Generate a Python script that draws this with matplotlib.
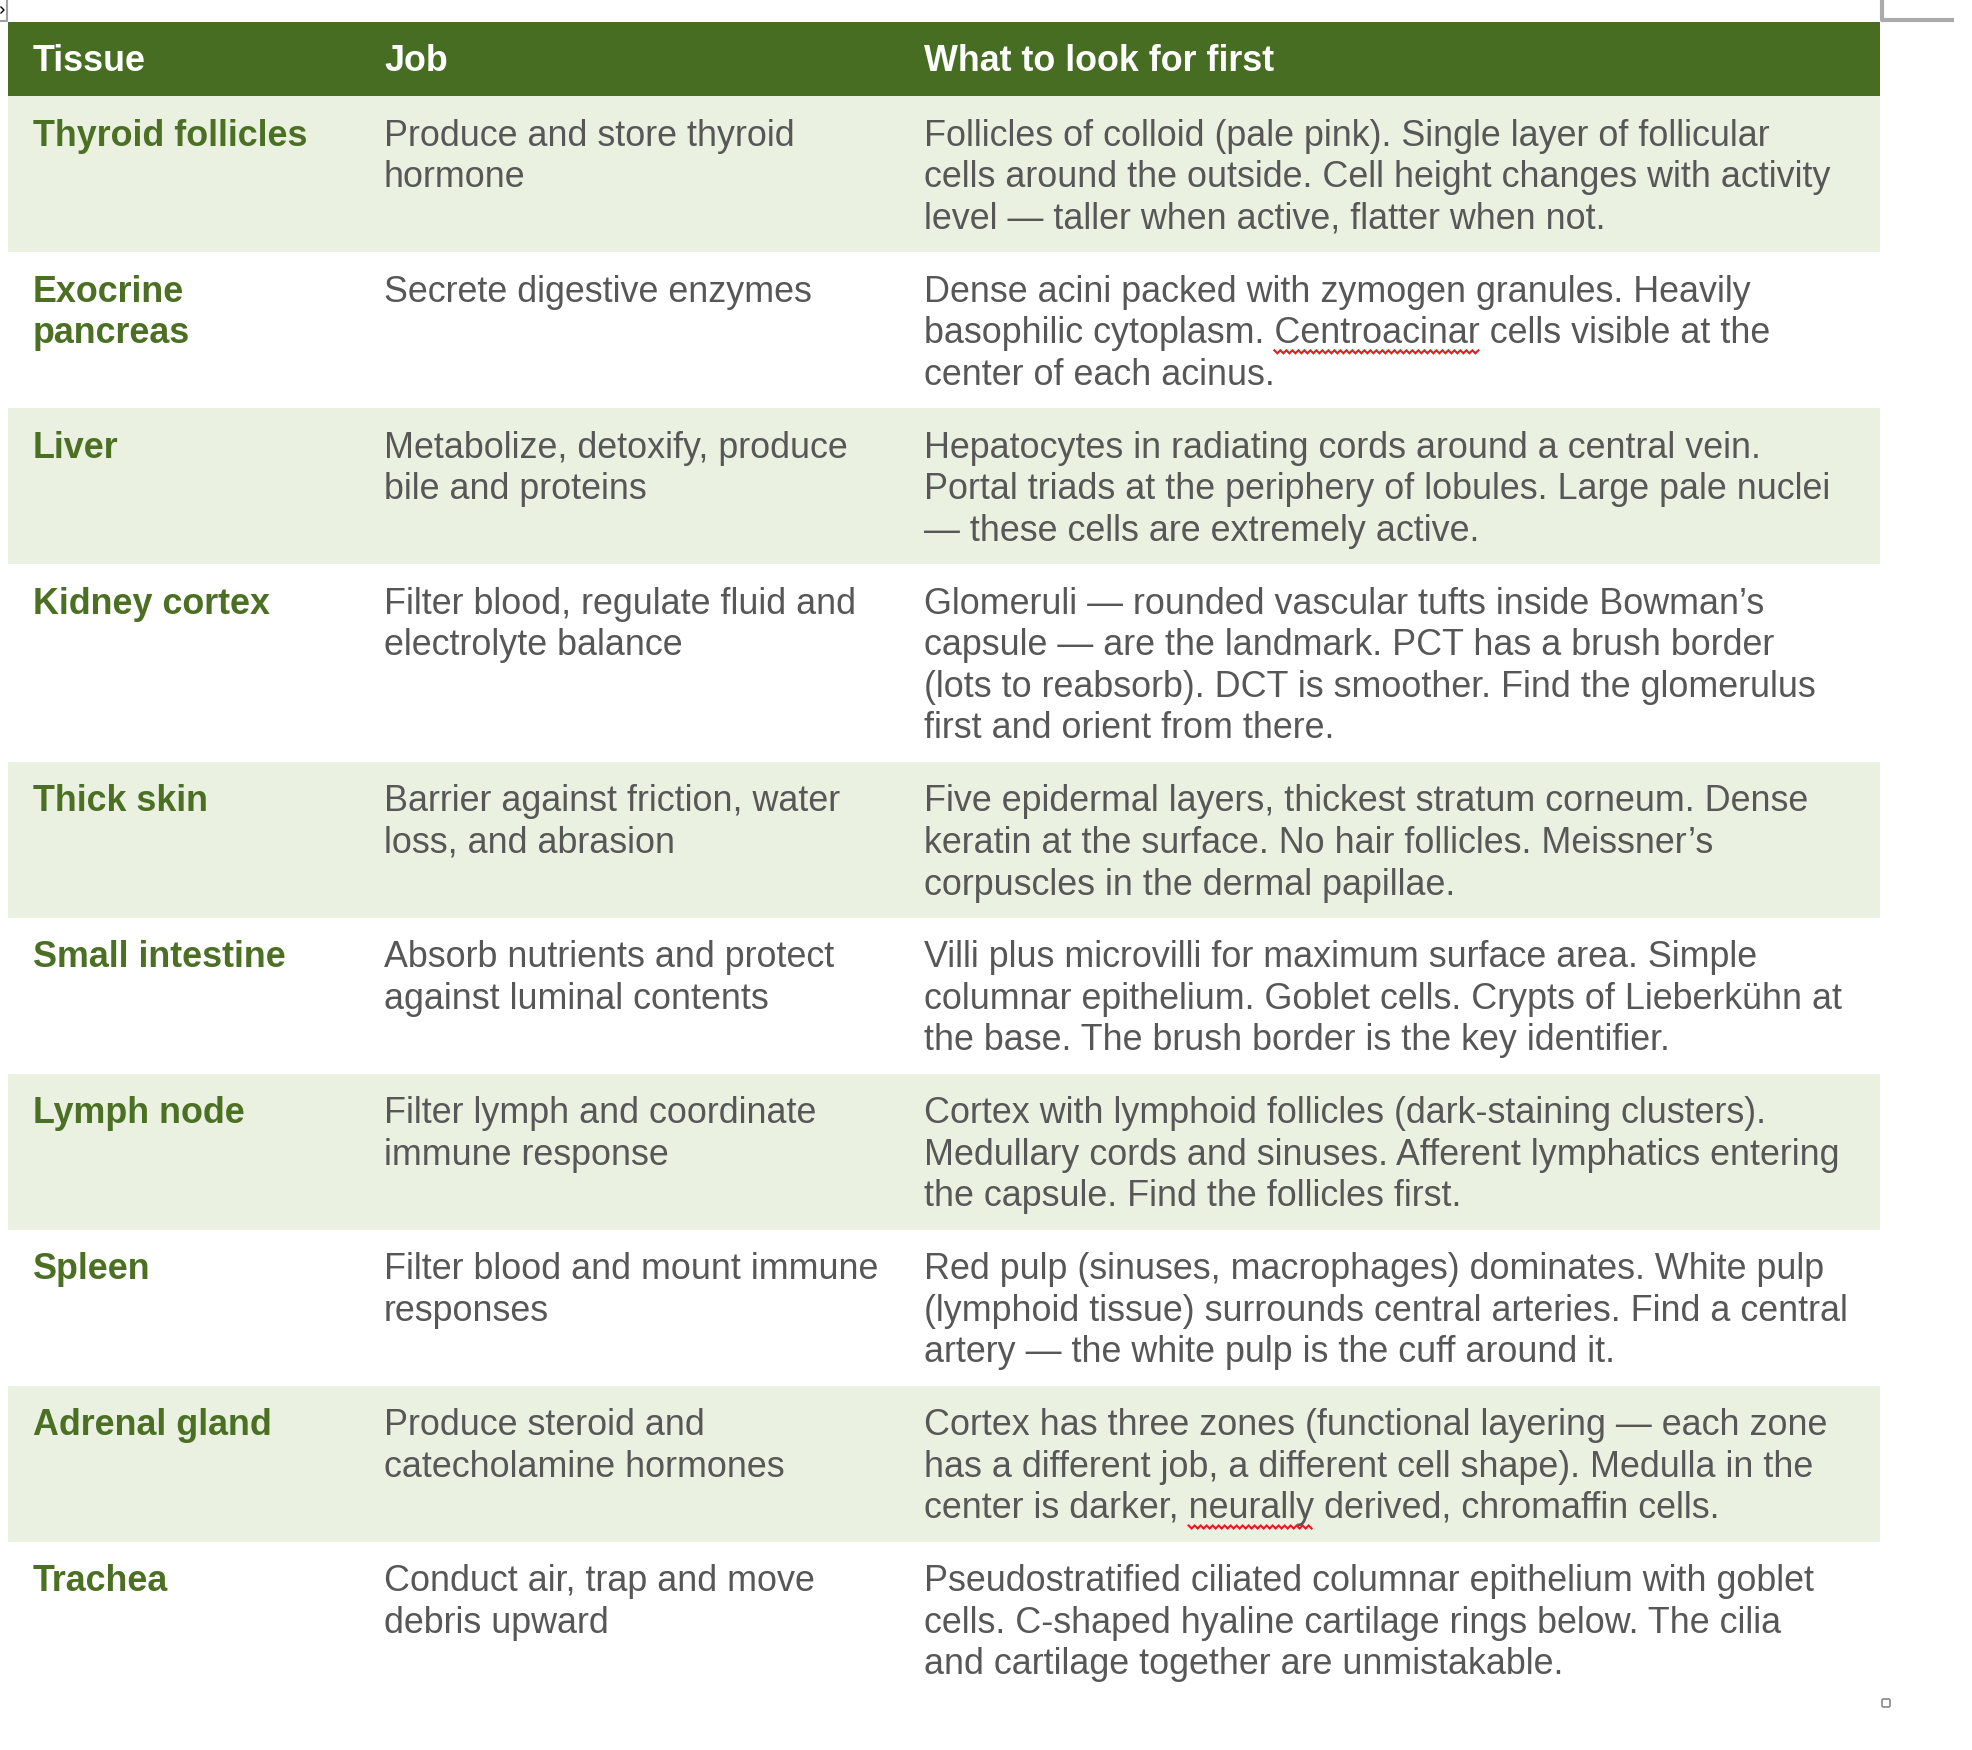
import matplotlib
matplotlib.use("Agg")
import matplotlib.pyplot as plt
from matplotlib.patches import Rectangle, FancyBboxPatch
import numpy as np

headers = ["Tissue", "Job", "What to look for first"]

tissues = [
    ["Thyroid follicles"],
    ["Exocrine", "pancreas"],
    ["Liver"],
    ["Kidney cortex"],
    ["Thick skin"],
    ["Small intestine"],
    ["Lymph node"],
    ["Spleen"],
    ["Adrenal gland"],
    ["Trachea"],
]

jobs = [
    ["Produce and store thyroid", "hormone"],
    ["Secrete digestive enzymes"],
    ["Metabolize, detoxify, produce", "bile and proteins"],
    ["Filter blood, regulate fluid and", "electrolyte balance"],
    ["Barrier against friction, water", "loss, and abrasion"],
    ["Absorb nutrients and protect", "against luminal contents"],
    ["Filter lymph and coordinate", "immune response"],
    ["Filter blood and mount immune", "responses"],
    ["Produce steroid and", "catecholamine hormones"],
    ["Conduct air, trap and move", "debris upward"],
]

looks = [
    ["Follicles of colloid (pale pink). Single layer of follicular",
     "cells around the outside. Cell height changes with activity",
     "level \u2014 taller when active, flatter when not."],
    ["Dense acini packed with zymogen granules. Heavily",
     "basophilic cytoplasm. Centroacinar cells visible at the",
     "center of each acinus."],
    ["Hepatocytes in radiating cords around a central vein.",
     "Portal triads at the periphery of lobules. Large pale nuclei",
     "\u2014 these cells are extremely active."],
    ["Glomeruli \u2014 rounded vascular tufts inside Bowman\u2019s",
     "capsule \u2014 are the landmark. PCT has a brush border",
     "(lots to reabsorb). DCT is smoother. Find the glomerulus",
     "first and orient from there."],
    ["Five epidermal layers, thickest stratum corneum. Dense",
     "keratin at the surface. No hair follicles. Meissner\u2019s",
     "corpuscles in the dermal papillae."],
    ["Villi plus microvilli for maximum surface area. Simple",
     "columnar epithelium. Goblet cells. Crypts of Lieberk\u00fchn at",
     "the base. The brush border is the key identifier."],
    ["Cortex with lymphoid follicles (dark-staining clusters).",
     "Medullary cords and sinuses. Afferent lymphatics entering",
     "the capsule. Find the follicles first."],
    ["Red pulp (sinuses, macrophages) dominates. White pulp",
     "(lymphoid tissue) surrounds central arteries. Find a central",
     "artery \u2014 the white pulp is the cuff around it."],
    ["Cortex has three zones (functional layering \u2014 each zone",
     "has a different job, a different cell shape). Medulla in the",
     "center is darker, neurally derived, chromaffin cells."],
    ["Pseudostratified ciliated columnar epithelium with goblet",
     "cells. C-shaped hyaline cartilage rings below. The cilia",
     "and cartilage together are unmistakable."],
]

# spell-check underlines: (row, line, word)
flagged = [(1, 1, "Centroacinar"), (8, 2, "neurally")]

W, H = 1972, 1750
fig = plt.figure(figsize=(W / 100, H / 100), dpi=100)
ax = fig.add_axes([0, 0, 1, 1])
ax.set_xlim(0, W)
ax.set_ylim(H, 0)
ax.axis("off")

FONT = ["Liberation Sans", "DejaVu Sans"]
FS = 25.8
HEAD_GREEN = "#476D23"
TISSUE_GREEN = "#4B7024"
BODY = "#575757"
SHADE = "#EBF1E0"

left, right = 8, 1880
colx = [33, 384, 924]
head_top, head_bot = 22, 96
line_h = 41.6
pad = 31.2
first_base = 49.7

# header
ax.add_patch(Rectangle((left, head_top), right - left, head_bot - head_top,
                       facecolor=HEAD_GREEN, edgecolor="none"))
for x, h in zip(colx, headers):
    ax.text(x, 71, h, fontsize=FS, fontweight="bold", color="white",
            family=FONT, va="baseline", ha="left")

fig.canvas.draw()
renderer = fig.canvas.get_renderer()

def text_width(s):
    t = ax.text(0, 0, s, fontsize=FS, family=FONT)
    bb = t.get_window_extent(renderer=renderer)
    t.remove()
    return bb.width

y = head_bot
for i in range(len(tissues)):
    nlines = max(len(tissues[i]), len(jobs[i]), len(looks[i]))
    rh = nlines * line_h + pad
    if i % 2 == 0:
        ax.add_patch(Rectangle((left, y), right - left, rh,
                               facecolor=SHADE, edgecolor="none"))
    for k, s in enumerate(tissues[i]):
        ax.text(colx[0], y + first_base + k * line_h, s, fontsize=FS,
                fontweight="bold", color=TISSUE_GREEN, family=FONT,
                va="baseline")
    for k, s in enumerate(jobs[i]):
        ax.text(colx[1], y + first_base + k * line_h, s, fontsize=FS,
                color=BODY, family=FONT, va="baseline")
    for k, s in enumerate(looks[i]):
        ax.text(colx[2], y + first_base + k * line_h, s, fontsize=FS,
                color=BODY, family=FONT, va="baseline")
    for (r, ln, word) in flagged:
        if r == i:
            s = looks[i][ln]
            pre = s[: s.index(word)]
            x0 = colx[2] + text_width(pre + "x") - text_width("x")
            x1 = x0 + text_width(word + "x") - text_width("x")
            yb = y + first_base + ln * line_h + 7
            xs = np.arange(x0, x1, 3.0)
            ys = yb + np.where(np.arange(len(xs)) % 2 == 0, 0, 3.0)
            ax.plot(xs, ys, color="#E02020", lw=1.5, solid_joinstyle="miter")
    y += rh

# small decorations from the source page
ax.plot([7, 7, 0], [0, 21, 21], color="#A0A0A0", lw=1.5)
ax.plot([1, 4, 1], [7, 10, 13], color="black", lw=1.0)
ax.plot([1882, 1882, 1952], [0, 20, 20], color="#ABABAB", lw=3)
ax.add_patch(FancyBboxPatch((1882, 1699), 8, 8,
                            boxstyle="round,pad=0,rounding_size=1.5",
                            facecolor="white", edgecolor="#888888", lw=1.2))

fig.savefig("out.png", dpi=100, facecolor="white")
